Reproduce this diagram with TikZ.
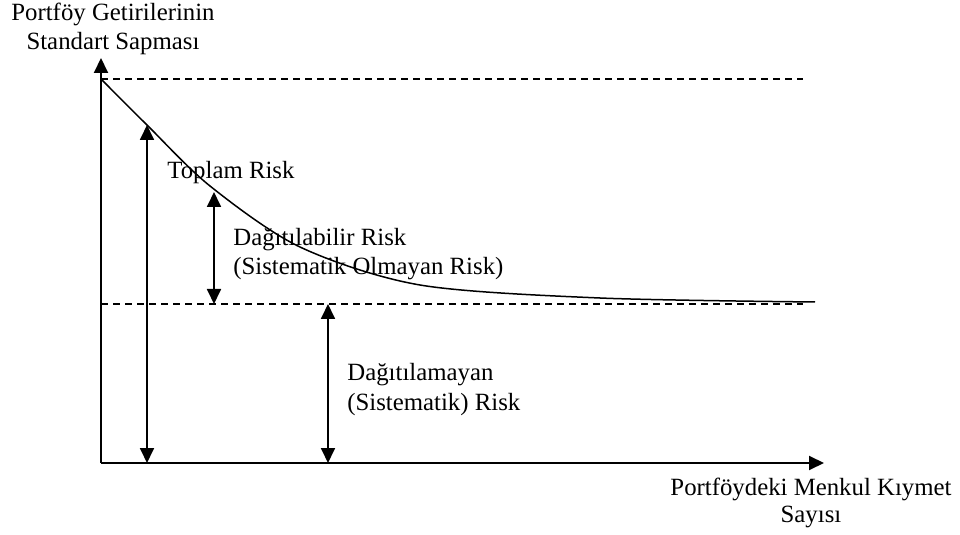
\documentclass[tikz,border=0pt]{standalone}
\usepackage{fontspec}
\setmainfont{Liberation Serif}
\usetikzlibrary{arrows.meta}
\begin{document}
\begin{tikzpicture}[x=0.5pt,y=-0.5pt,
  lbl/.style={inner sep=0pt,font=\fontsize{12.4}{14.5}\selectfont},
  axisline/.style={line width=1pt,-{Triangle[width=7pt,length=7.5pt]}},
  dimarrow/.style={line width=0.9pt,{Triangle[width=7pt,length=7.5pt]}-{Triangle[width=7pt,length=7.5pt]}},
  guide/.style={line width=0.75pt,dash pattern=on 3.5pt off 2.5pt},
  curveline/.style={line width=0.75pt}]
\useasboundingbox (0,0) rectangle (960,535);
% coordinates
\coordinate (O) at (101,463);
\coordinate (Ytip) at (101,58);
\coordinate (Xtip) at (824,463);
\coordinate (Top) at (101,79);
\coordinate (TopEnd) at (803,79);
\coordinate (Mid) at (101,304);
\coordinate (MidEnd) at (803,304);
\coordinate (A1t) at (147,125);
\coordinate (A1b) at (147,463);
\coordinate (A2t) at (214,192);
\coordinate (A2b) at (214,304);
\coordinate (A3t) at (328,304);
\coordinate (A3b) at (328,463);
% axes
\draw[axisline] (O) -- (Ytip);
\draw[axisline] (O) -- (Xtip);
% guides
\draw[guide] (Top) -- (TopEnd);
\draw[guide] (Mid) -- (MidEnd);
% curve
\draw[curveline] plot[smooth] coordinates {(101,79) (147,125) (210,186) (300,247) (420,285) (600,298) (815,302)};
% dimension arrows
\draw[dimarrow] (A1t) -- (A1b);
\draw[dimarrow] (A2t) -- (A2b);
\draw[dimarrow] (A3t) -- (A3b);
% labels
\node[lbl,anchor=base] (yl1) at (113,21) {Portföy Getirilerinin};
\node[lbl,anchor=base] (yl2) at (113,50) {Standart Sapması};
\node[lbl,anchor=base] (xl1) at (811,495) {Portföydeki Menkul Kıymet};
\node[lbl,anchor=base] (xl2) at (811,522) {Sayısı};
\node[lbl,anchor=base west] (tr) at (167,179) {Toplam Risk};
\node[lbl,anchor=base west] (dr1) at (233,246) {Dağıtılabilir Risk};
\node[lbl,anchor=base west] (dr2) at (233,275) {(Sistematik Olmayan Risk)};
\node[lbl,anchor=base west] (sr1) at (347,380) {Dağıtılamayan};
\node[lbl,anchor=base west] (sr2) at (347,410) {(Sistematik) Risk};
\end{tikzpicture}
\end{document}
